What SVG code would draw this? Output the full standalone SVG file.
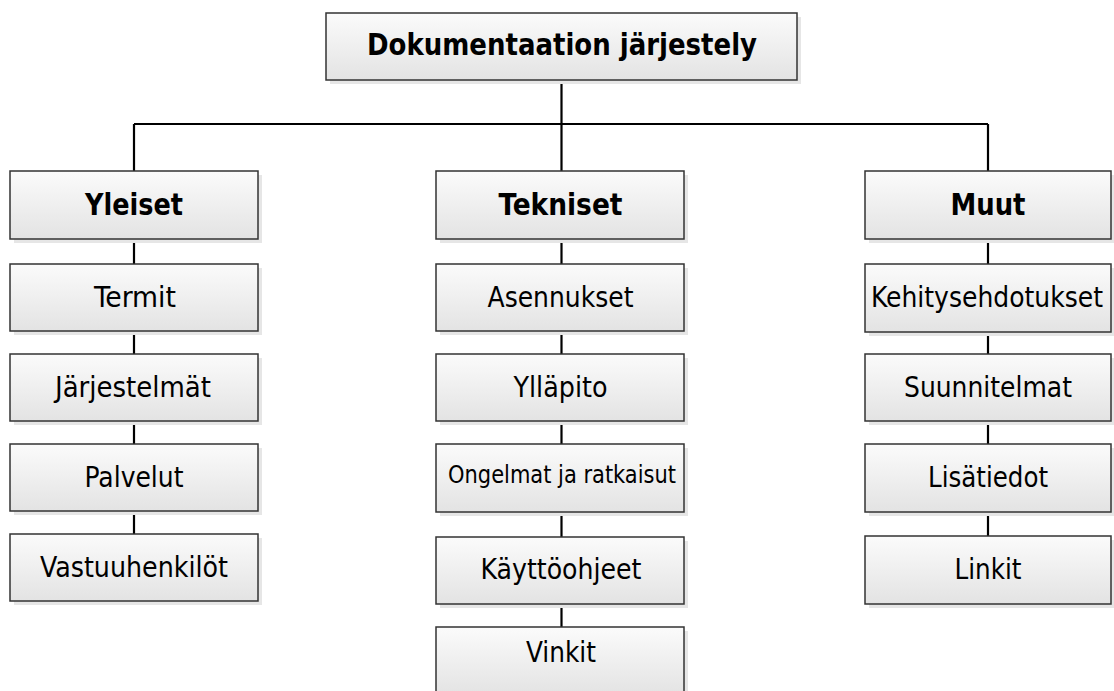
<svg xmlns="http://www.w3.org/2000/svg" width="1114" height="691" viewBox="0 0 1114 691">
<defs>
<linearGradient id="g" x1="0" y1="0" x2="0" y2="1">
<stop offset="0" stop-color="#fbfbfb"/>
<stop offset="1" stop-color="#e3e3e3"/>
</linearGradient>
<style>
.sh{fill:#e6e6e6}
.bx{fill:url(#g);stroke:#333;stroke-width:1.5}
.t{font-family:"DejaVu Sans Condensed","DejaVu Sans",Tahoma,sans-serif;font-stretch:condensed;font-size:28.6px;fill:#000;text-anchor:middle}
.b{font-weight:bold;font-size:29.5px}
.s{font-size:24px}
.cn{stroke:#000;stroke-width:2.2;fill:none}
</style>
</defs>
<rect width="1114" height="691" fill="#fff"/>
<g id="connectors">
<path class="cn" d="M561.5 80V124M134 124H988M134 124V171M561.5 124V171M988 124V171"/>
<path class="cn" d="M134 239V534"/>
<path class="cn" d="M561.5 239V627"/>
<path class="cn" d="M988 239V536"/>
</g>
<g id="root"><rect class="sh" x="330" y="17" width="471" height="67"/><rect class="bx" x="326" y="13" width="471" height="67"/><text class="t b" x="562" y="55" textLength="390" lengthAdjust="spacingAndGlyphs">Dokumentaation järjestely</text></g>
<g id="yleiset"><rect class="sh" x="14" y="175" width="248" height="68"/><rect class="bx" x="10" y="171" width="248" height="68"/><text class="t b" x="134" y="215" textLength="98" lengthAdjust="spacingAndGlyphs">Yleiset</text></g>
<g id="tekniset"><rect class="sh" x="440" y="175" width="248" height="68"/><rect class="bx" x="436" y="171" width="248" height="68"/><text class="t b" x="560.5" y="215" textLength="124" lengthAdjust="spacingAndGlyphs">Tekniset</text></g>
<g id="muut"><rect class="sh" x="869" y="175" width="246" height="68"/><rect class="bx" x="865" y="171" width="246" height="68"/><text class="t b" x="988" y="215" textLength="75" lengthAdjust="spacingAndGlyphs">Muut</text></g>
<g id="termit"><rect class="sh" x="14" y="268" width="248" height="67"/><rect class="bx" x="10" y="264" width="248" height="67"/><text class="t" x="135" y="307" textLength="82" lengthAdjust="spacingAndGlyphs">Termit</text></g>
<g id="jarjestelmat"><rect class="sh" x="14" y="358" width="248" height="67"/><rect class="bx" x="10" y="354" width="248" height="67"/><text class="t" x="133" y="397" textLength="156" lengthAdjust="spacingAndGlyphs">Järjestelmät</text></g>
<g id="palvelut"><rect class="sh" x="14" y="448" width="248" height="67"/><rect class="bx" x="10" y="444" width="248" height="67"/><text class="t" x="134" y="487" textLength="99" lengthAdjust="spacingAndGlyphs">Palvelut</text></g>
<g id="vastuuhenkilot"><rect class="sh" x="14" y="538" width="248" height="67"/><rect class="bx" x="10" y="534" width="248" height="67"/><text class="t" x="134" y="577" textLength="188" lengthAdjust="spacingAndGlyphs">Vastuuhenkilöt</text></g>
<g id="asennukset"><rect class="sh" x="440" y="268" width="248" height="67"/><rect class="bx" x="436" y="264" width="248" height="67"/><text class="t" x="560.5" y="307" textLength="146" lengthAdjust="spacingAndGlyphs">Asennukset</text></g>
<g id="yllapito"><rect class="sh" x="440" y="358" width="248" height="67"/><rect class="bx" x="436" y="354" width="248" height="67"/><text class="t" x="560.5" y="397" textLength="94" lengthAdjust="spacingAndGlyphs">Ylläpito</text></g>
<g id="ongelmat"><rect class="sh" x="440" y="448" width="248" height="68"/><rect class="bx" x="436" y="444" width="248" height="68"/><text class="t s" x="562" y="483" textLength="228" lengthAdjust="spacingAndGlyphs">Ongelmat ja ratkaisut</text></g>
<g id="kayttoohjeet"><rect class="sh" x="440" y="541" width="248" height="67"/><rect class="bx" x="436" y="537" width="248" height="67"/><text class="t" x="561" y="579" textLength="161" lengthAdjust="spacingAndGlyphs">Käyttöohjeet</text></g>
<g id="vinkit"><rect class="sh" x="440" y="631" width="248" height="68"/><rect class="bx" x="436" y="627" width="248" height="68"/><text class="t" x="561" y="662" textLength="70" lengthAdjust="spacingAndGlyphs">Vinkit</text></g>
<g id="kehitysehdotukset"><rect class="sh" x="869" y="268" width="246" height="68"/><rect class="bx" x="865" y="264" width="246" height="68"/><text class="t" x="987" y="307" textLength="232" lengthAdjust="spacingAndGlyphs">Kehitysehdotukset</text></g>
<g id="suunnitelmat"><rect class="sh" x="869" y="358" width="246" height="67"/><rect class="bx" x="865" y="354" width="246" height="67"/><text class="t" x="988" y="397" textLength="168" lengthAdjust="spacingAndGlyphs">Suunnitelmat</text></g>
<g id="lisatiedot"><rect class="sh" x="869" y="448" width="246" height="68"/><rect class="bx" x="865" y="444" width="246" height="68"/><text class="t" x="988" y="487" textLength="120" lengthAdjust="spacingAndGlyphs">Lisätiedot</text></g>
<g id="linkit"><rect class="sh" x="869" y="540" width="246" height="68"/><rect class="bx" x="865" y="536" width="246" height="68"/><text class="t" x="988" y="579" textLength="67" lengthAdjust="spacingAndGlyphs">Linkit</text></g>
</svg>
